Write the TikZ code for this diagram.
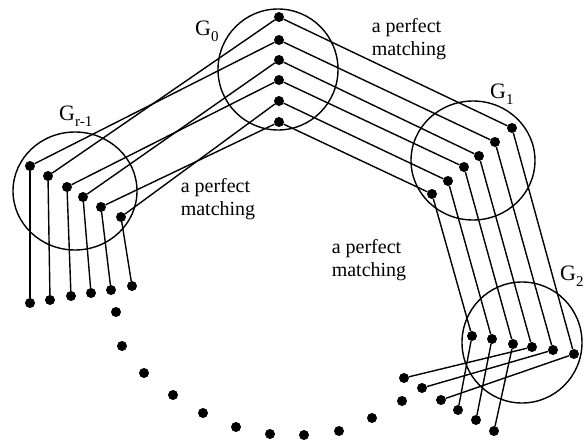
\documentclass[tikz,border=0pt]{standalone}
\usepackage{fontspec}
\setmainfont{Liberation Serif}
\newcommand{\glab}[1]{\fontsize{22}{22}\selectfont G\raisebox{-0.28em}{\fontsize{15}{15}\selectfont #1}}
\begin{document}
\begin{tikzpicture}[x=1pt,y=-1pt,
  dot/.style={circle,fill=black,inner sep=0pt,minimum size=10pt},
  edge/.style={line width=1.4pt},
  lab/.style={align=left,font=\fontsize{20}{23}\selectfont,inner sep=0pt},
  glabel/.style={anchor=base west,inner sep=0pt}]
\useasboundingbox (0,0) rectangle (584,442);
% group circles
\draw[line width=1.4pt] (278,69.5) ellipse [x radius=60,y radius=60.5];
\draw[line width=1.4pt] (75,191) ellipse [x radius=62,y radius=59];
\draw[line width=1.4pt] (473,160.5) ellipse [x radius=62,y radius=59.5];
\draw[line width=1.4pt] (522,342.5) ellipse [x radius=60,y radius=60.5];
% G0 dots
\foreach \i/\y in {1/17,2/40,3/60,4/80,5/101,6/122}
  \node[dot] (g\i) at (279,\y) {};
% G1 dots
\foreach \i/\x/\y in {1/512/128,2/495/142,3/479/156,4/464/167,5/448/181,6/432/194}
  \node[dot] (h\i) at (\x,\y) {};
% G2 dots
\foreach \i/\x/\y in {1/472/336,2/492/339,3/513/344,4/532/347,5/553/350,6/574/354}
  \node[dot] (k\i) at (\x,\y) {};
% G_{r-1} dots
\foreach \i/\x/\y in {1/30/166,2/48/176,3/67/187,4/83/197,5/101/207,6/121/217}
  \node[dot] (r\i) at (\x,\y) {};
% dots below G_{r-1}
\foreach \i/\x/\y in {1/30/303,2/50/300,3/71/296,4/91/293,5/111/290,6/132/286}
  \node[dot] (b\i) at (\x,\y) {};
% arc of dots
\foreach \i/\x/\y in {1/116/312,2/122/346,3/144/373,4/173/395,5/203/413,6/236/427,7/270/434,8/304/435,9/339/431,10/372/418,11/402/401}
  \node[dot] (c\i) at (\x,\y) {};
% ends below G2
\foreach \i/\x/\y in {1/404/378,2/422/388,3/441/400,4/458/410,5/476/420,6/494/431}
  \node[dot] (e\i) at (\x,\y) {};
% G0 -- G1
\foreach \i in {1,...,6} \draw[edge] (g\i) -- (h\i);
% G1 -- G2
\foreach \i/\j in {1/6,2/5,3/4,4/3,5/2,6/1} \draw[edge] (h\i) -- (k\j);
% G_{r-1} -- G0
\foreach \i/\j in {1/2,2/1,3/4,4/3,5/6,6/5} \draw[edge] (r\i) -- (g\j);
% G_{r-1} downwards
\foreach \i in {1,...,6} \draw[edge] (r\i) -- (b\i);
% G2 downwards
\foreach \i/\j in {4/1,5/2,6/3,1/4,2/5,3/6} \draw[edge] (k\i) -- (e\j);
% labels
\node[lab] (m1) at (409,39) {a perfect\\matching};
\node[lab] (m2) at (218,199) {a perfect\\matching};
\node[lab] (m3) at (369,260) {a perfect\\matching};
\node[glabel] (l0) at (195,35) {\glab{0}};
\node[glabel] (lr) at (59,120) {\glab{r-1}};
\node[glabel] (l1) at (490,98) {\glab{1}};
\node[glabel] (l2) at (560,280) {\glab{2}};
\end{tikzpicture}
\end{document}
